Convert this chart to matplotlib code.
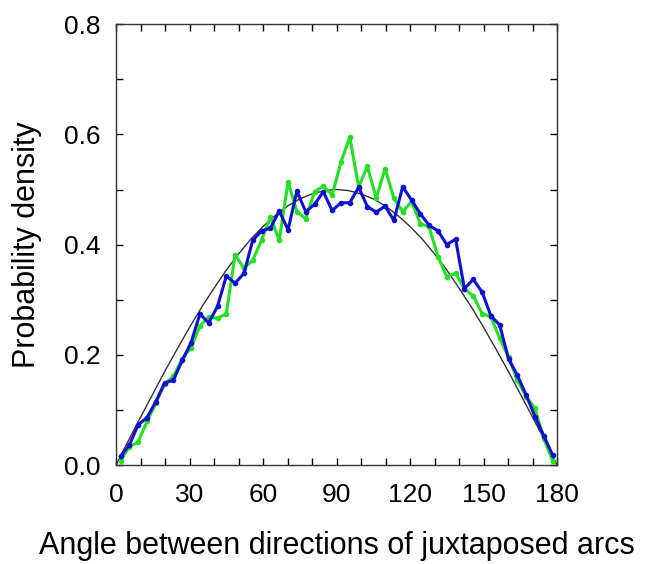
import matplotlib.pyplot as plt
import numpy as np

plt.rcParams['font.family'] = ['Liberation Sans', 'DejaVu Sans']

# bin centres (3.6 degree bins)
angles = [1.8, 5.4, 9.0, 12.6, 16.2, 19.8, 23.4, 27.0, 30.6, 34.2,
          37.8, 41.4, 45.0, 48.6, 52.2, 55.8, 59.4, 63.0, 66.6, 70.2,
          73.8, 77.4, 81.0, 84.6, 88.2, 91.8, 95.4, 99.0, 102.6, 106.2,
          109.8, 113.4, 117.0, 120.6, 124.2, 127.8, 131.4, 135.0, 138.6, 142.2,
          145.8, 149.4, 153.0, 156.6, 160.2, 163.8, 167.4, 171.0, 174.6, 178.2]

green = [0.008, 0.033, 0.042, 0.079, 0.112, 0.147, 0.161, 0.193, 0.213, 0.252,
         0.269, 0.266, 0.275, 0.382, 0.357, 0.372, 0.408, 0.450, 0.408, 0.514,
         0.460, 0.447, 0.496, 0.506, 0.490, 0.550, 0.595, 0.505, 0.542, 0.484,
         0.538, 0.484, 0.460, 0.478, 0.438, 0.432, 0.378, 0.342, 0.348, 0.320,
         0.307, 0.275, 0.269, 0.230, 0.196, 0.154, 0.124, 0.103, 0.048, 0.008]

blue = [0.016, 0.036, 0.073, 0.086, 0.115, 0.149, 0.154, 0.190, 0.222, 0.274,
        0.258, 0.288, 0.343, 0.330, 0.348, 0.408, 0.425, 0.430, 0.461, 0.427,
        0.497, 0.460, 0.473, 0.496, 0.462, 0.476, 0.476, 0.504, 0.469, 0.459,
        0.470, 0.444, 0.505, 0.481, 0.456, 0.435, 0.425, 0.400, 0.410, 0.320,
        0.337, 0.314, 0.271, 0.254, 0.193, 0.163, 0.127, 0.088, 0.053, 0.018]

# theoretical curve, read every 5 degrees
theory_x = list(range(0, 181, 5))
theory_y = [0.000, 0.044, 0.087, 0.129, 0.171, 0.211, 0.250, 0.287, 0.321, 0.354,
            0.383, 0.410, 0.433, 0.453, 0.470, 0.483, 0.492, 0.498, 0.500,
            0.498, 0.492, 0.483, 0.470, 0.453, 0.433, 0.410, 0.383, 0.354, 0.321,
            0.287, 0.250, 0.211, 0.171, 0.129, 0.087, 0.044, 0.000]

fig = plt.figure(figsize=(6.45, 5.64), dpi=100)
ax = fig.add_axes([0.18, 0.1755, 0.6836, 0.7815])

ax.plot(theory_x, theory_y, color='#333333', lw=1.0, zorder=1)
ax.plot(angles, green, color='#22e022', lw=2.2, marker='o', ms=3,
        solid_joinstyle='round', zorder=2)
ax.plot(angles, blue, color='#1010d0', lw=2.2, marker='o', ms=3,
        solid_joinstyle='round', zorder=3)

ax.set_xlim(0, 180)
ax.set_ylim(0, 0.8)
ax.set_xticks(np.arange(0, 181, 30))
ax.set_xticks(np.arange(0, 181, 10), minor=True)
ax.set_yticks([0.0, 0.2, 0.4, 0.6, 0.8])
ax.set_yticklabels(['0.0', '0.2', '0.4', '0.6', '0.8'])
ax.set_yticks(np.arange(0, 0.81, 0.1), minor=True)
ax.tick_params(which='both', direction='in', top=True, right=True,
               length=5, width=1, labelsize=19)
ax.tick_params(axis='x', pad=13)
ax.tick_params(axis='y', pad=11)

for s in ax.spines.values():
    s.set_linewidth(1.0)
    s.set_color('#333333')

ax.set_xlabel('Angle between directions of juxtaposed arcs', fontsize=22, labelpad=17)
ax.set_ylabel('Probability density', fontsize=22, labelpad=16)

fig.savefig('out.png', dpi=100)
